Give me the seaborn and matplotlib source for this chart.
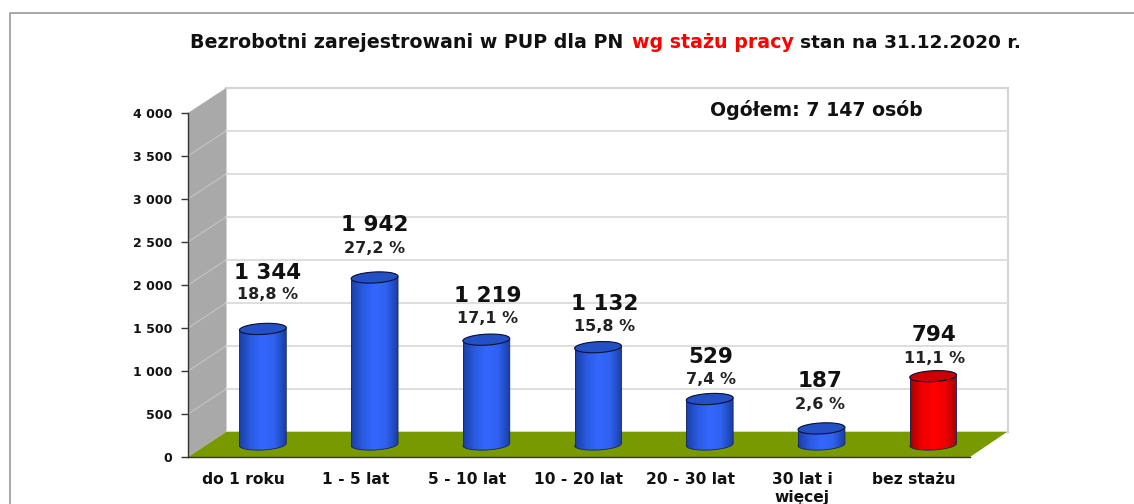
import numpy as np
import matplotlib
matplotlib.use('Agg')
import matplotlib.pyplot as plt
from matplotlib.patches import Polygon
from matplotlib.colors import LinearSegmentedColormap
from matplotlib.transforms import Affine2D
import pandas as pd
import seaborn as sns

categories = ['do 1 roku', '1 - 5 lat', '5 - 10 lat', '10 - 20 lat', '20 - 30 lat', '30 lat i\nwięcej', 'bez stażu']
values = [1344, 1942, 1219, 1132, 529, 187, 794]
value_labels = ['1 344', '1 942', '1 219', '1 132', '529', '187', '794']
percent_labels = ['18,8 %', '27,2 %', '17,1 %', '15,8 %', '7,4 %', '2,6 %', '11,1 %']
y_ticks = [0, 500, 1000, 1500, 2000, 2500, 3000, 3500, 4000]
y_tick_labels = ['0', '500', '1 000', '1 500', '2 000', '2 500', '3 000', '3 500', '4 000']
bar_colors = ['#2f62f0'] * 6 + ['#ff0000']

# label offsets above the bar top, in pixels
label_dx = [5, 0, 1, 7, 1, -1, 1]
number_gap = [56, 52, 44, 43, 42, 47, 41]
percent_gap = [34, 29, 21, 21, 20, 24, 18]

W, H = 1134, 504
DX, DY = 38, 25  # depth of the 3d box in pixels

sns.set_theme(style='white')
plt.rcParams['font.family'] = ['DejaVu Sans']

fig = plt.figure(figsize=(W / 100, H / 100), dpi=100, facecolor='white')
ax = fig.add_axes([188 / W, 1 - 457 / H, (970 - 188) / W, (457 - 113) / H])
ax.patch.set_alpha(0)

df = pd.DataFrame({'staz': categories, 'osoby': values})
sns.barplot(data=df, x='staz', y='osoby', hue='staz', palette=bar_colors, legend=False,
            width=0.42, ax=ax, zorder=5)
bars = list(ax.patches)
ax.set_xlabel('')
ax.set_ylabel('')
ax.set_xlim(-0.5, 6.5)
ax.set_ylim(0, 4000)

back = ax.transData + Affine2D().translate(DX, DY)
mid = ax.transData + Affine2D().translate(DX / 2, DY / 2)

# walls and floor
ax.add_patch(Polygon([(-0.5, 0), (-0.5, 4000), (6.5, 4000), (6.5, 0)], closed=True, fc='white',
                     ec='#d4d4d4', lw=1.6, transform=back, clip_on=False, zorder=0))
ax.add_patch(Polygon([(188, H - 457), (226, H - 432), (226, H - 88), (188, H - 113)], closed=True,
                     fc='#a9a9a9', ec='none', transform=None, clip_on=False, zorder=1))
ax.add_patch(Polygon([(188, H - 457), (970, H - 457), (1007, H - 432), (226, H - 432)], closed=True,
                     fc='#789a00', ec='none', transform=None, clip_on=False, zorder=2))
for t in y_ticks[1:-1]:
    ax.plot([-0.5, 6.5], [t, t], color='#dedede', lw=1.4, transform=back, clip_on=False, zorder=1)
    y0 = ax.transData.transform((0, t))[1]
    ax.plot([188, 226], [y0, y0 + DY], color='#c4c4c4', lw=0.8, transform=None, clip_on=False, zorder=1.5)

# cylinders
shade = {
    '#2f62f0': LinearSegmentedColormap.from_list('b', ['#1b3fa8', '#2a5be0', '#3367ff', '#2f62f0', '#1b3fa8']),
    '#ff0000': LinearSegmentedColormap.from_list('r', ['#a80000', '#f00000', '#ff0000', '#f00000', '#a80000']),
}
cap_color = {'#2f62f0': '#2350c4', '#ff0000': '#c80000'}
ry = 5.5 * 4000 / (457 - 113)
tilt = 1.2 * 4000 / (457 - 113)
grad = np.linspace(0, 1, 64).reshape(1, -1)
t = np.linspace(0, np.pi, 40)
for i, p in enumerate(bars):
    x0, w, h = p.get_x(), p.get_width(), p.get_height()
    p.set_visible(False)
    c = bar_colors[i]
    xs = x0 + w / 2 + w / 2 * np.cos(t)
    lean = tilt * np.cos(t)
    top = np.column_stack([xs, h + ry * np.sin(t) + lean])
    bot = np.column_stack([xs[::-1], -ry * np.sin(t)[::-1] + lean[::-1]])
    body = Polygon(np.vstack([top, bot]), closed=True, fc='none', ec='none', transform=mid)
    ax.add_patch(body)
    im = ax.imshow(grad, cmap=shade[c], extent=[x0, x0 + w, -ry - tilt, h + ry + tilt], aspect='auto',
                   transform=mid, zorder=5)
    im.set_clip_path(body)
    ell = np.column_stack([x0 + w / 2 + w / 2 * np.cos(2 * t), h + ry * np.sin(2 * t) + tilt * np.cos(2 * t)])
    ax.add_patch(Polygon(ell, closed=True, fc=cap_color[c], ec='#101030', lw=0.8, transform=mid,
                         clip_on=False, zorder=6))
    ax.plot(*np.vstack([bot, top[:1]]).T, color='#14265c', lw=0.6, transform=mid, clip_on=False, zorder=6)
    ax.plot([x0, x0], [-tilt, h - tilt], color='#14265c', lw=0.6, transform=mid, clip_on=False, zorder=6)
    px, py = mid.transform((x0 + w / 2, h))
    ax.text(px + label_dx[i], py + number_gap[i], value_labels[i], transform=None, ha='center', va='center',
            fontsize=15.5, fontweight='bold', color='#111111', zorder=7)
    ax.text(px + label_dx[i], py + percent_gap[i], percent_labels[i], transform=None, ha='center', va='center',
            fontsize=11.5, fontweight='bold', color='#222222', zorder=7)
ax.set_xlim(-0.5, 6.5)
ax.set_ylim(0, 4000)

# axes
for s in ['top', 'right']:
    ax.spines[s].set_visible(False)
for s in ['left', 'bottom']:
    ax.spines[s].set_color('#333333')
    ax.spines[s].set_linewidth(1.0)
    ax.spines[s].set_zorder(4)
ax.set_yticks(y_ticks, y_tick_labels, fontsize=9.0, fontweight='bold', color='#111111')
ax.set_xticks(range(7), categories, fontsize=11.2, fontweight='bold', color='#111111')
ax.set_xticks(np.arange(-0.5, 7), minor=True)
ax.tick_params(axis='x', which='major', length=0, pad=11)
ax.tick_params(axis='x', which='minor', length=5, width=1, color='#444444')
ax.tick_params(axis='y', length=5, width=1, color='#333333', pad=6.5, left=True)
ax.grid(False)

# page frame, only top and left are in the crop
fig.add_artist(plt.Line2D([9.5 / W, 9.5 / W, 1], [0, 1 - 13 / H, 1 - 13 / H], color='#9a9a9a', lw=1.2))

# title pieces
fig.text(190 / W, 1 - 43 / H, 'Bezrobotni zarejestrowani w PUP dla PN', fontsize=13.7, fontweight='bold', color='#111111', va='center')
fig.text(632 / W, 1 - 43 / H, 'wg stażu pracy', fontsize=13.7, fontweight='bold', color='#ff0000', va='center')
fig.text(800 / W, 1 - 43 / H, 'stan na 31.12.2020 r.', fontsize=13.3, fontweight='bold', color='#111111', va='center')
fig.text(710 / W, 1 - 110 / H, 'Ogółem: 7 147 osób', fontsize=13.6, fontweight='bold', color='#111111', va='center')

fig.savefig('out.png', dpi=100)
